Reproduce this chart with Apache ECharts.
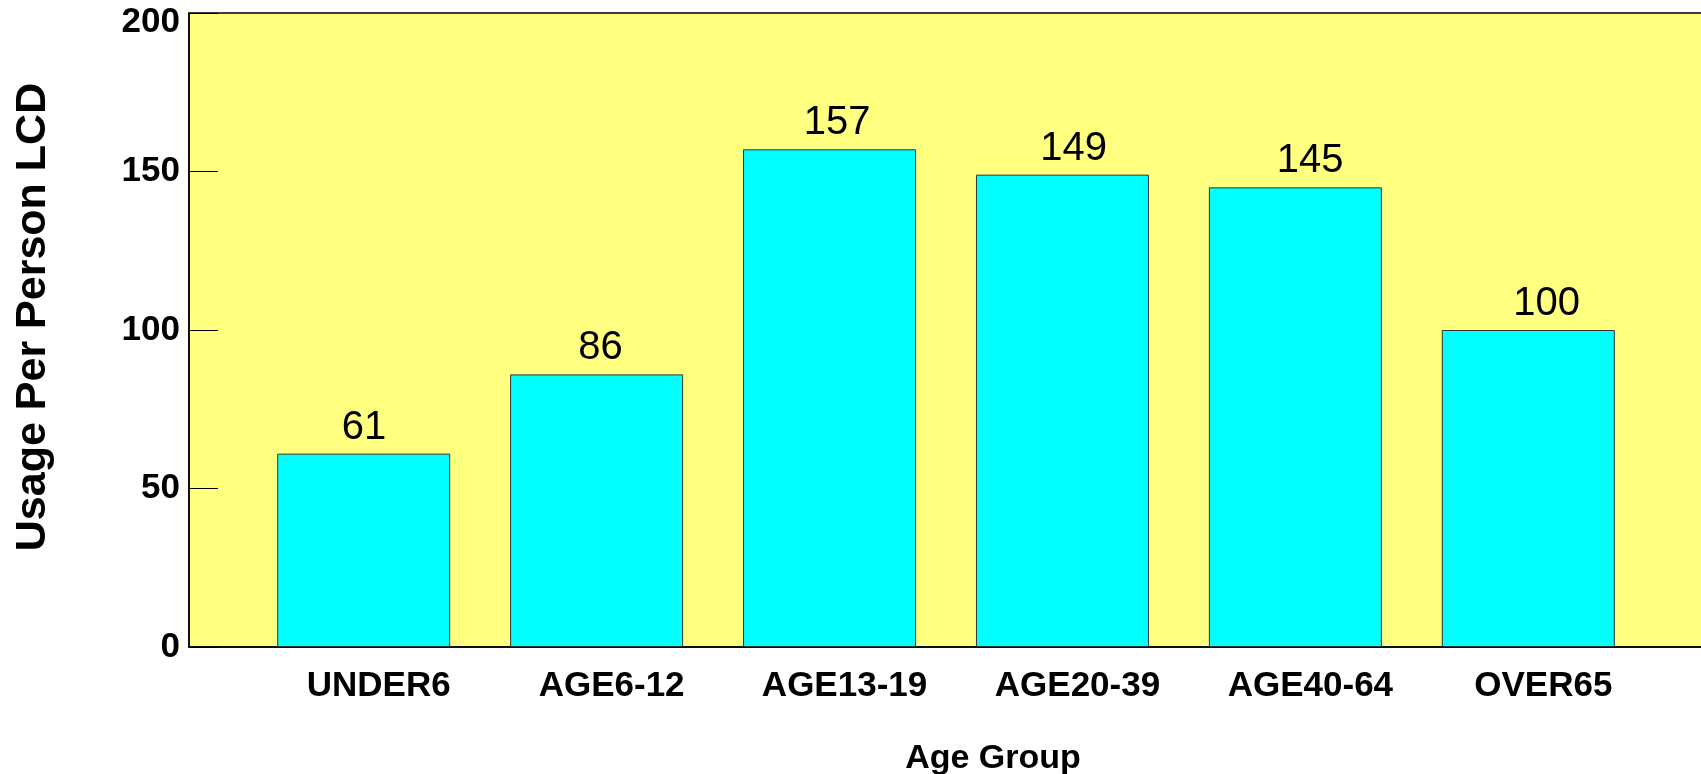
<!DOCTYPE html>
<html>
<head>
<meta charset="utf-8">
<script src="https://cdn.jsdelivr.net/npm/echarts@6/dist/echarts.min.js"></script>
<style>
html,body{margin:0;padding:0;background:#fff;}
#chart{width:1701px;height:774px;}
</style>
</head>
<body>
<div id="chart"></div>
<script>
const categories = ["UNDER6", "AGE6-12", "AGE13-19", "AGE20-39", "AGE40-64", "OVER65"];
const values = [61, 86, 157, 149, 145, 100];
const yTicks = [0, 50, 100, 150, 200];
const xTitle = "Age Group";
const yTitle = "Usage Per Person LCD";

const FONT = "Liberation Sans, Arial, sans-serif";
const positions = categories.map((c, i) => i + 1);
const seriesData = values.map((v, i) => [positions[i], v]);

const chart = echarts.init(document.getElementById('chart'));
chart.setOption({
  animation: false,
  backgroundColor: '#ffffff',
  grid: {
    left: 189, right: -2, top: 13, bottom: 127,
    containLabel: false, outerBoundsMode: 'none',
    show: true, backgroundColor: '#FFFF80', borderColor: '#000', borderWidth: 1.5
  },
  xAxis: [{
    type: 'value',
    min: 0.25, max: 6.75,
    splitLine: { show: false },
    axisLine: { show: true, onZero: false, lineStyle: { color: '#000', width: 1.5 } },
    axisTick: { show: false },
    axisLabel: {
      customValues: positions,
      formatter: v => categories[Math.round(v) - 1] || '',
      fontFamily: FONT, fontWeight: 'bold', fontSize: 35, color: '#000', margin: 22,
      padding: [0, 0, 0, 30]
    },
    name: xTitle,
    nameLocation: 'middle',
    nameGap: 95,
    nameTextStyle: { fontFamily: FONT, fontWeight: 'bold', fontSize: 34, color: '#000', padding: [0, 0, 0, 94] }
  }, {
    // slightly stretched scale used only to place the value labels as in the original
    type: 'value',
    show: false,
    min: 0.26, max: 6.6617
  }],
  yAxis: {
    type: 'value',
    min: 0, max: 200, interval: 50,
    splitLine: { show: false },
    axisLine: { show: true, lineStyle: { color: '#000', width: 1.5 } },
    axisTick: { show: true, inside: true, length: 29, lineStyle: { color: '#000', width: 1 }, customValues: yTicks },
    axisLabel: {
      customValues: yTicks,
      formatter: v => v === 200 ? '{top|' + v + '}' : String(v),
      rich: { top: { padding: [18, 0, 0, 0], fontFamily: FONT, fontWeight: 'bold', fontSize: 35, color: '#000' } },
      fontFamily: FONT, fontWeight: 'bold', fontSize: 35, color: '#000', margin: 9
    },
    name: yTitle,
    nameLocation: 'middle',
    nameGap: 134,
    nameRotate: 90,
    nameTextStyle: { fontFamily: FONT, fontWeight: 'bold', fontSize: 43, color: '#000', padding: [0, 0, 0, 26] }
  },
  series: [{
    type: 'bar',
    xAxisIndex: 0,
    data: seriesData,
    barWidth: 173,
    itemStyle: { color: '#00FFFF', borderColor: '#333333', borderWidth: 1 },
    label: { show: false }
  }, {
    type: 'bar',
    xAxisIndex: 1,
    data: seriesData,
    barWidth: 173,
    silent: true,
    z: 3,
    itemStyle: { color: 'rgba(0,0,0,0)', borderWidth: 0 },
    label: {
      show: true, position: 'top', distance: 6,
      formatter: p => String(p.value[1]),
      fontFamily: FONT, fontSize: 40, color: '#000'
    }
  }]
});
</script>
</body>
</html>
